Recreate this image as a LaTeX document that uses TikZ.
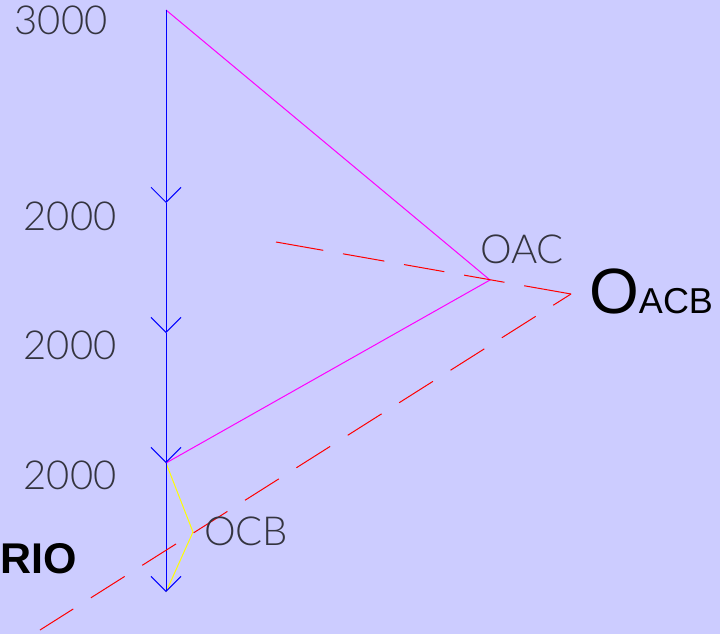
\documentclass[tikz,border=0pt]{standalone}
\usepackage{fontspec}
\setmainfont{Liberation Sans}
\newfontfamily\thinfont{Lato Light}
\usetikzlibrary{arrows.meta}
\definecolor{bg}{HTML}{CCCCFF}
\definecolor{txtgray}{HTML}{34343F}
\definecolor{cmag}{RGB}{255,0,255}
\definecolor{cyel}{RGB}{255,255,0}
\definecolor{cblue}{RGB}{0,0,255}
\definecolor{cred}{RGB}{255,0,0}
\tikzset{
  lbl/.style={inner sep=0pt, text=txtgray, font=\thinfont\fontsize{40}{42}\selectfont},
  flow/.style={cblue, line width=1pt, -{Straight Barb[length=15pt, width=30pt, line width=1pt]}},
  tri/.style={cmag, line width=1pt},
  yel/.style={cyel, line width=1pt},
  reddash/.style={cred, line width=1pt},
}
\begin{document}
\begin{tikzpicture}[x=1pt, y=-1pt]
  \fill[bg] (0,0) rectangle (720,634);
  \useasboundingbox (0,0) rectangle (720,634);
  % points
  \coordinate (top) at (166,10);
  \coordinate (a1) at (166,203);
  \coordinate (a2) at (166,333);
  \coordinate (a3) at (166,463);
  \coordinate (a4) at (166,592);
  \coordinate (oac) at (490,280);
  \coordinate (ocb) at (193,532);
  \coordinate (r1) at (276,242);
  \coordinate (r2) at (571,294);
  \coordinate (r3) at (40,630);
  % magenta triangle
  \draw[tri] (top) -- (oac) -- (a3);
  % yellow
  \draw[yel] (a3) -- (ocb) -- (a4);
  % blue flow
  \draw[flow] (top) -- (a1);
  \draw[flow] (a1) -- (a2);
  \draw[flow] (a2) -- (a3);
  \draw[flow] (a3) -- (a4);
  % red dashed
  \draw[reddash, dash pattern=on 48pt off 20pt on 42pt off 20pt on 41pt off 20pt on 41pt off 20pt on 62pt off 20pt] (r1) -- (r2);
  \draw[reddash, dash pattern=on 40pt off 20.8pt, dash phase=19pt] (r2) -- (r3);
  % labels
  \node[lbl] (t3000) at (61,20) {3000};
  \node[lbl] (t2000a) at (70,216) {2000};
  \node[lbl] (t2000b) at (70,345) {2000};
  \node[lbl] (t2000c) at (70,475) {2000};
  \node[lbl] (toac) at (522,249) {OAC};
  \node[lbl] (tocb) at (246,531) {OCB};
  \node[inner sep=0pt, anchor=base west, font=\fontsize{64}{66}\selectfont] (toacb) at (589,313) {O\fontsize{36}{38}\selectfont ACB};
  \node[inner sep=0pt, font=\bfseries\fontsize{43}{45}\selectfont] (trio) at (39,559) {RIO};
\end{tikzpicture}
\end{document}
